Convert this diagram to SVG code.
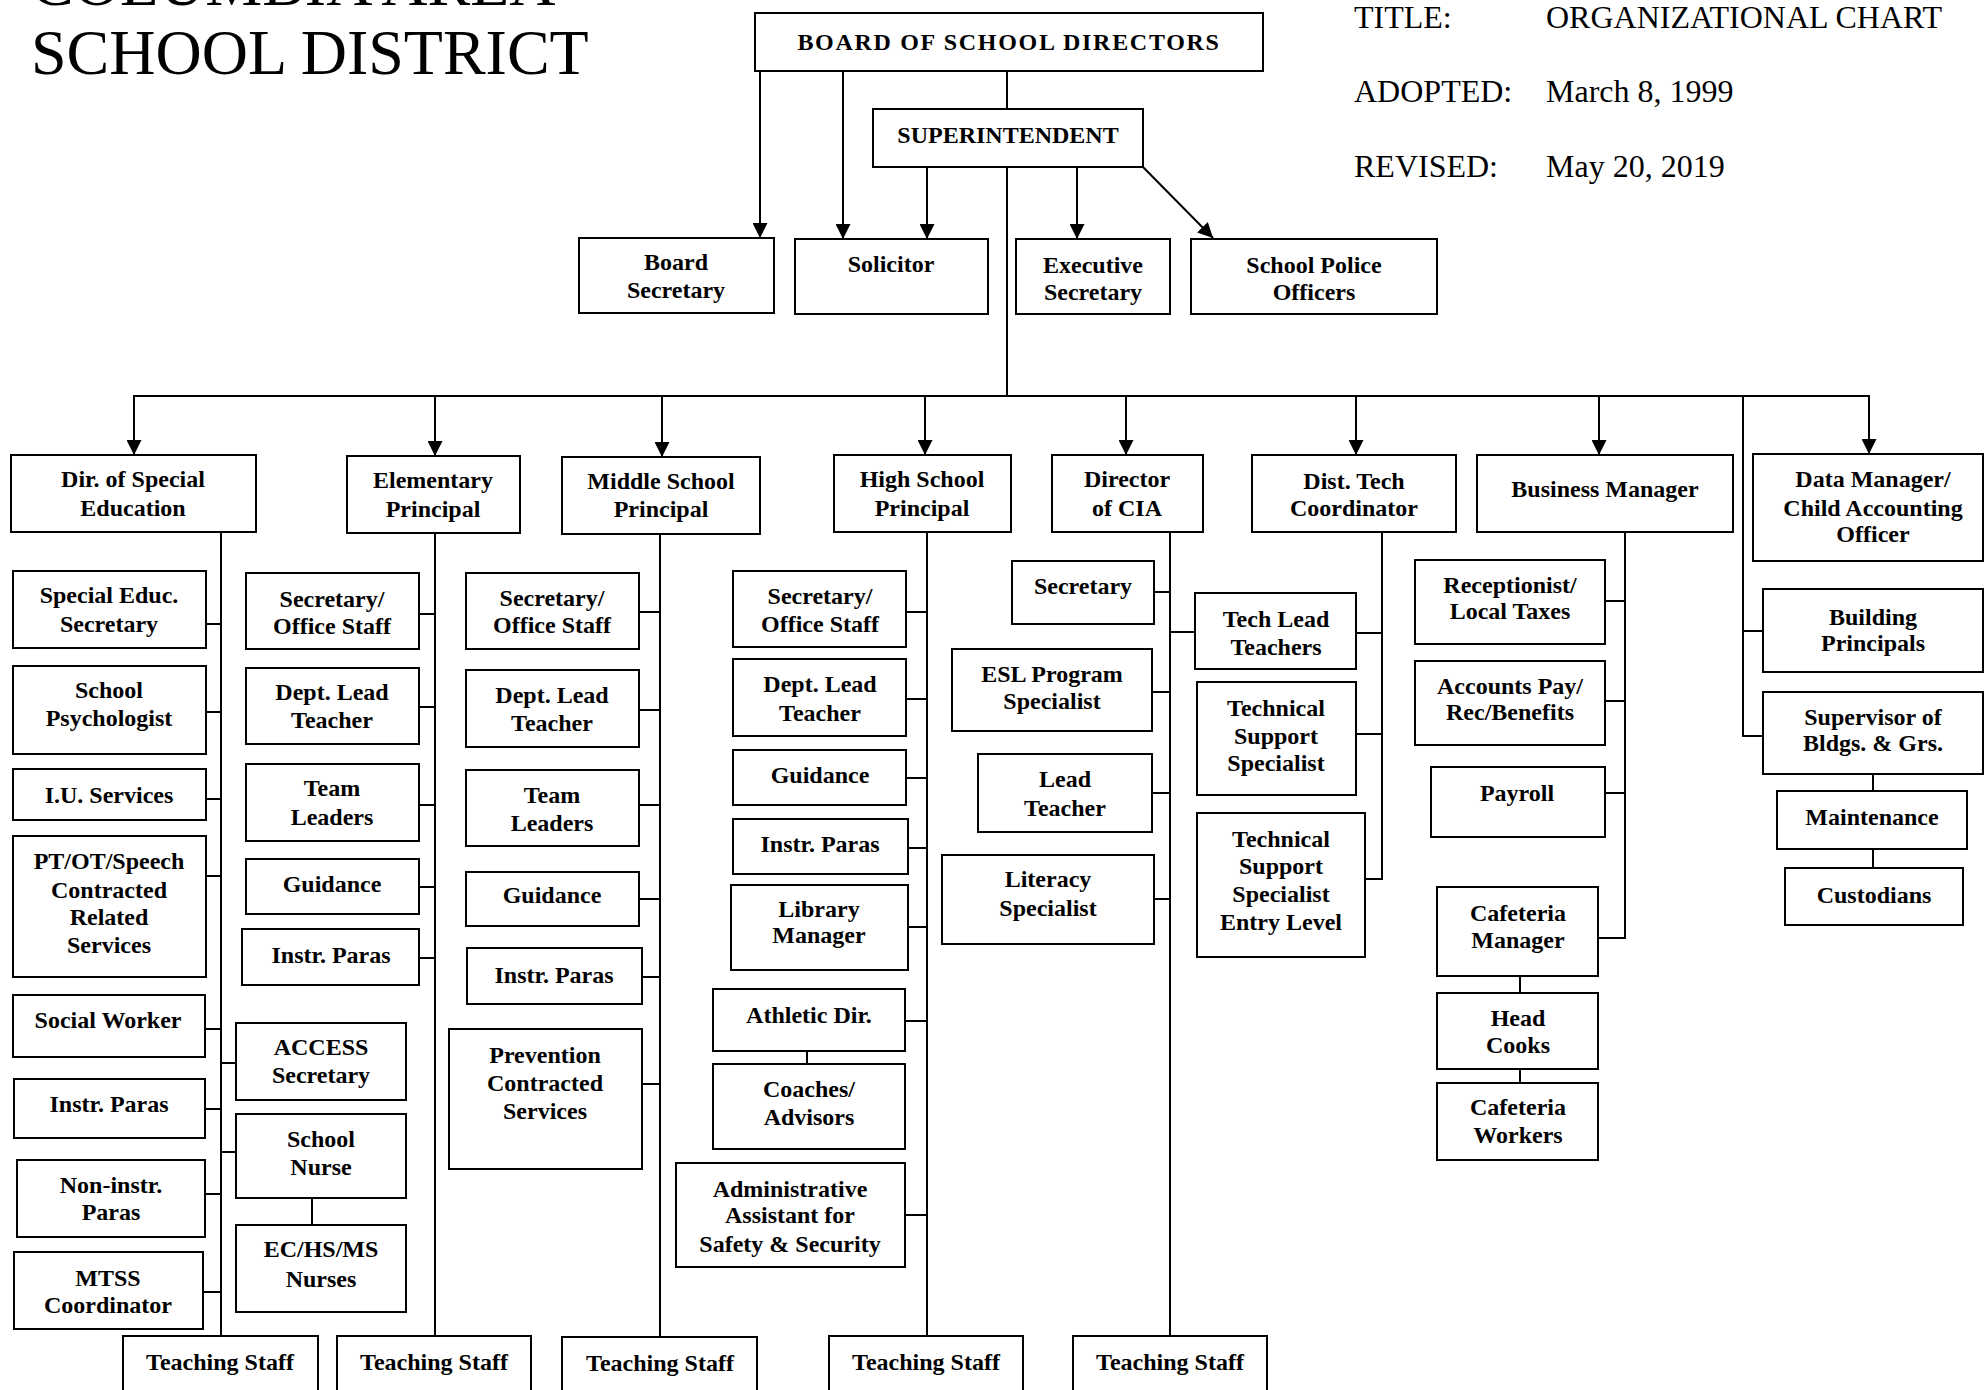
<svg xmlns="http://www.w3.org/2000/svg" width="1984" height="1390" viewBox="0 0 1984 1390">
<defs>
<marker id="ah" viewBox="0 0 10 10" refX="10" refY="5" markerWidth="15" markerHeight="15" markerUnits="userSpaceOnUse" orient="auto">
<path d="M0,0 L10,5 L0,10 z" fill="#000"/>
</marker>
<style>
.box{fill:#fff;stroke:#000;stroke-width:2}
.t{font-family:"Liberation Serif","Times New Roman",serif;font-weight:bold;font-size:24px;text-anchor:middle;fill:#000}
.h{font-family:"Liberation Serif","Times New Roman",serif;fill:#000}
.ln{stroke:#000;stroke-width:2;fill:none}
.ar{stroke:#000;stroke-width:2;fill:none;marker-end:url(#ah)}
</style>
</defs>
<rect x="0" y="0" width="1984" height="1390" fill="#fff"/>

<g id="title">
<text class="h" x="31" y="5" font-size="64">COLUMBIA AREA</text>
<text class="h" x="31" y="74" font-size="64">SCHOOL DISTRICT</text>
<text class="h" x="1354" y="28" font-size="32">TITLE:</text>
<text class="h" x="1546" y="28" font-size="32">ORGANIZATIONAL CHART</text>
<text class="h" x="1354" y="102" font-size="32">ADOPTED:</text>
<text class="h" x="1546" y="102" font-size="32">March 8, 1999</text>
<text class="h" x="1354" y="177" font-size="32">REVISED:</text>
<text class="h" x="1546" y="177" font-size="32">May 20, 2019</text>
</g>

<g id="connectors">
<line class="ln" x1="1007" y1="71" x2="1007" y2="109"/>
<line class="ar" x1="760" y1="72" x2="760" y2="238"/>
<line class="ar" x1="843" y1="72" x2="843" y2="239"/>
<line class="ar" x1="927" y1="168" x2="927" y2="239"/>
<line class="ar" x1="1077" y1="168" x2="1077" y2="239"/>
<line class="ar" x1="1143" y1="167" x2="1213" y2="238"/>
<line class="ln" x1="1007" y1="167" x2="1007" y2="396"/>
<line class="ln" x1="133" y1="396" x2="1870" y2="396"/>
<line class="ar" x1="134" y1="396" x2="134" y2="455"/>
<line class="ar" x1="435" y1="396" x2="435" y2="456"/>
<line class="ar" x1="662" y1="396" x2="662" y2="457"/>
<line class="ar" x1="925" y1="396" x2="925" y2="455"/>
<line class="ar" x1="1126" y1="396" x2="1126" y2="455"/>
<line class="ar" x1="1356" y1="396" x2="1356" y2="455"/>
<line class="ar" x1="1599" y1="396" x2="1599" y2="455"/>
<line class="ar" x1="1869" y1="396" x2="1869" y2="454"/>
<path class="ln" d="M1743,396 V736 H1763 M1743,631 H1763"/>
<path class="ln" d="M221,532 V1336 M206,624 H221 M206,712 H221 M206,799 H221 M206,876 H221 M205,1029 H221 M205,1109 H221 M205,1194 H221 M203,1292 H221 M221,1063 H236 M221,1152 H236 M312,1198 V1225"/>
<path class="ln" d="M435,533 V1336 M419,614 H435 M419,707 H435 M419,805 H435 M419,887 H435 M419,958 H435"/>
<path class="ln" d="M660,534 V1337 M639,612 H660 M639,710 H660 M639,805 H660 M639,899 H660 M642,977 H660 M642,1084 H660"/>
<path class="ln" d="M927,532 V1336 M906,612 H927 M906,699 H927 M906,778 H927 M908,848 H927 M908,927 H927 M905,1021 H927 M905,1215 H927 M807,1051 V1064"/>
<path class="ln" d="M1170,532 V1336 M1154,592 H1170 M1152,692 H1170 M1152,793 H1170 M1154,899 H1170 M1170,632 H1195"/>
<path class="ln" d="M1382,532 V879 H1365 M1356,633 H1382 M1356,734 H1382"/>
<path class="ln" d="M1625,532 V938 H1598 M1605,601 H1625 M1605,701 H1625 M1605,793 H1625 M1520,976 V993 M1520,1069 V1083"/>
<path class="ln" d="M1873,774 V791 M1873,849 V868"/>
</g>

<g id="board"><rect class="box" x="755" y="13" width="508" height="58"/><text class="t" x="1009" y="50" letter-spacing="1.7">BOARD OF SCHOOL DIRECTORS</text></g>
<g id="superintendent"><rect class="box" x="873" y="109" width="270" height="58"/><text class="t" x="1008" y="143">SUPERINTENDENT</text></g>
<g id="board-secretary"><rect class="box" x="579" y="238" width="195" height="75"/><text class="t" x="676" y="270">Board</text><text class="t" x="676" y="298">Secretary</text></g>
<g id="solicitor"><rect class="box" x="795" y="239" width="193" height="75"/><text class="t" x="891" y="272">Solicitor</text></g>
<g id="executive-secretary"><rect class="box" x="1016" y="239" width="154" height="75"/><text class="t" x="1093" y="273">Executive</text><text class="t" x="1093" y="300">Secretary</text></g>
<g id="school-police"><rect class="box" x="1191" y="239" width="246" height="75"/><text class="t" x="1314" y="273">School Police</text><text class="t" x="1314" y="300">Officers</text></g>

<g id="dir-special-ed"><rect class="box" x="11" y="455" width="245" height="77"/><text class="t" x="133" y="487">Dir. of Special</text><text class="t" x="133" y="516">Education</text></g>
<g id="elementary-principal"><rect class="box" x="347" y="456" width="173" height="77"/><text class="t" x="433" y="488">Elementary</text><text class="t" x="433" y="517">Principal</text></g>
<g id="middle-principal"><rect class="box" x="562" y="457" width="198" height="77"/><text class="t" x="661" y="489">Middle School</text><text class="t" x="661" y="517">Principal</text></g>
<g id="high-principal"><rect class="box" x="834" y="455" width="177" height="77"/><text class="t" x="922" y="487">High School</text><text class="t" x="922" y="516">Principal</text></g>
<g id="director-cia"><rect class="box" x="1052" y="455" width="151" height="77"/><text class="t" x="1127" y="487">Director</text><text class="t" x="1127" y="516">of CIA</text></g>
<g id="dist-tech"><rect class="box" x="1252" y="455" width="204" height="77"/><text class="t" x="1354" y="489">Dist. Tech</text><text class="t" x="1354" y="516">Coordinator</text></g>
<g id="business-manager"><rect class="box" x="1477" y="455" width="256" height="77"/><text class="t" x="1605" y="497">Business Manager</text></g>
<g id="data-manager"><rect class="box" x="1753" y="454" width="230" height="107"/><text class="t" x="1873" y="487">Data Manager/</text><text class="t" x="1873" y="516">Child Accounting</text><text class="t" x="1873" y="542">Officer</text></g>

<g id="sped-secretary"><rect class="box" x="13" y="571" width="193" height="77"/><text class="t" x="109" y="603">Special Educ.</text><text class="t" x="109" y="632">Secretary</text></g>
<g id="school-psychologist"><rect class="box" x="13" y="666" width="193" height="88"/><text class="t" x="109" y="698">School</text><text class="t" x="109" y="726">Psychologist</text></g>
<g id="iu-services"><rect class="box" x="13" y="769" width="193" height="51"/><text class="t" x="109" y="803">I.U. Services</text></g>
<g id="pt-ot-speech"><rect class="box" x="13" y="836" width="193" height="141"/><text class="t" x="109" y="869">PT/OT/Speech</text><text class="t" x="109" y="898">Contracted</text><text class="t" x="109" y="925">Related</text><text class="t" x="109" y="953">Services</text></g>
<g id="social-worker"><rect class="box" x="13" y="995" width="192" height="62"/><text class="t" x="108" y="1028">Social Worker</text></g>
<g id="sped-instr-paras"><rect class="box" x="14" y="1079" width="191" height="59"/><text class="t" x="109" y="1112">Instr. Paras</text></g>
<g id="non-instr-paras"><rect class="box" x="17" y="1160" width="188" height="77"/><text class="t" x="111" y="1193">Non-instr.</text><text class="t" x="111" y="1220">Paras</text></g>
<g id="mtss"><rect class="box" x="14" y="1252" width="189" height="77"/><text class="t" x="108" y="1286">MTSS</text><text class="t" x="108" y="1313">Coordinator</text></g>
<g id="access-secretary"><rect class="box" x="236" y="1023" width="170" height="77"/><text class="t" x="321" y="1055">ACCESS</text><text class="t" x="321" y="1083">Secretary</text></g>
<g id="school-nurse"><rect class="box" x="236" y="1114" width="170" height="84"/><text class="t" x="321" y="1147">School</text><text class="t" x="321" y="1175">Nurse</text></g>
<g id="nurses"><rect class="box" x="236" y="1225" width="170" height="87"/><text class="t" x="321" y="1257">EC/HS/MS</text><text class="t" x="321" y="1287">Nurses</text></g>
<g id="sped-teaching"><rect class="box" x="123" y="1336" width="195" height="70"/><text class="t" x="220" y="1370">Teaching Staff</text></g>

<g id="elem-secretary"><rect class="box" x="246" y="573" width="173" height="76"/><text class="t" x="332" y="607">Secretary/</text><text class="t" x="332" y="634">Office Staff</text></g>
<g id="elem-dept-lead"><rect class="box" x="246" y="668" width="173" height="76"/><text class="t" x="332" y="700">Dept. Lead</text><text class="t" x="332" y="728">Teacher</text></g>
<g id="elem-team-leaders"><rect class="box" x="246" y="764" width="173" height="77"/><text class="t" x="332" y="796">Team</text><text class="t" x="332" y="825">Leaders</text></g>
<g id="elem-guidance"><rect class="box" x="246" y="859" width="173" height="55"/><text class="t" x="332" y="892">Guidance</text></g>
<g id="elem-instr-paras"><rect class="box" x="242" y="929" width="177" height="56"/><text class="t" x="331" y="963">Instr. Paras</text></g>
<g id="elem-teaching"><rect class="box" x="337" y="1336" width="194" height="70"/><text class="t" x="434" y="1370">Teaching Staff</text></g>

<g id="ms-secretary"><rect class="box" x="466" y="573" width="173" height="76"/><text class="t" x="552" y="606">Secretary/</text><text class="t" x="552" y="633">Office Staff</text></g>
<g id="ms-dept-lead"><rect class="box" x="466" y="670" width="173" height="77"/><text class="t" x="552" y="703">Dept. Lead</text><text class="t" x="552" y="731">Teacher</text></g>
<g id="ms-team-leaders"><rect class="box" x="466" y="770" width="173" height="76"/><text class="t" x="552" y="803">Team</text><text class="t" x="552" y="831">Leaders</text></g>
<g id="ms-guidance"><rect class="box" x="466" y="872" width="173" height="54"/><text class="t" x="552" y="903">Guidance</text></g>
<g id="ms-instr-paras"><rect class="box" x="467" y="948" width="175" height="56"/><text class="t" x="554" y="983">Instr. Paras</text></g>
<g id="prevention"><rect class="box" x="449" y="1029" width="193" height="140"/><text class="t" x="545" y="1063">Prevention</text><text class="t" x="545" y="1091">Contracted</text><text class="t" x="545" y="1119">Services</text></g>
<g id="ms-teaching"><rect class="box" x="562" y="1337" width="195" height="70"/><text class="t" x="660" y="1371">Teaching Staff</text></g>

<g id="hs-secretary"><rect class="box" x="733" y="571" width="173" height="76"/><text class="t" x="820" y="604">Secretary/</text><text class="t" x="820" y="632">Office Staff</text></g>
<g id="hs-dept-lead"><rect class="box" x="733" y="659" width="173" height="77"/><text class="t" x="820" y="692">Dept. Lead</text><text class="t" x="820" y="721">Teacher</text></g>
<g id="hs-guidance"><rect class="box" x="733" y="750" width="173" height="55"/><text class="t" x="820" y="783">Guidance</text></g>
<g id="hs-instr-paras"><rect class="box" x="733" y="819" width="175" height="55"/><text class="t" x="820" y="852">Instr. Paras</text></g>
<g id="library-manager"><rect class="box" x="731" y="885" width="177" height="85"/><text class="t" x="819" y="917">Library</text><text class="t" x="819" y="943">Manager</text></g>
<g id="athletic-dir"><rect class="box" x="713" y="989" width="192" height="62"/><text class="t" x="809" y="1023">Athletic Dir.</text></g>
<g id="coaches"><rect class="box" x="713" y="1064" width="192" height="85"/><text class="t" x="809" y="1097">Coaches/</text><text class="t" x="809" y="1125">Advisors</text></g>
<g id="admin-assistant"><rect class="box" x="676" y="1163" width="229" height="104"/><text class="t" x="790" y="1197">Administrative</text><text class="t" x="790" y="1223">Assistant for</text><text class="t" x="790" y="1252">Safety &amp; Security</text></g>
<g id="hs-teaching"><rect class="box" x="829" y="1336" width="194" height="70"/><text class="t" x="926" y="1370">Teaching Staff</text></g>

<g id="cia-secretary"><rect class="box" x="1012" y="561" width="142" height="63"/><text class="t" x="1083" y="594">Secretary</text></g>
<g id="esl"><rect class="box" x="952" y="649" width="200" height="82"/><text class="t" x="1052" y="682">ESL Program</text><text class="t" x="1052" y="709">Specialist</text></g>
<g id="lead-teacher"><rect class="box" x="978" y="754" width="174" height="78"/><text class="t" x="1065" y="787">Lead</text><text class="t" x="1065" y="816">Teacher</text></g>
<g id="literacy"><rect class="box" x="942" y="855" width="212" height="89"/><text class="t" x="1048" y="887">Literacy</text><text class="t" x="1048" y="916">Specialist</text></g>
<g id="cia-teaching"><rect class="box" x="1073" y="1336" width="194" height="70"/><text class="t" x="1170" y="1370">Teaching Staff</text></g>

<g id="tech-lead"><rect class="box" x="1195" y="593" width="161" height="76"/><text class="t" x="1276" y="627">Tech Lead</text><text class="t" x="1276" y="655">Teachers</text></g>
<g id="tech-support"><rect class="box" x="1197" y="682" width="159" height="113"/><text class="t" x="1276" y="716">Technical</text><text class="t" x="1276" y="744">Support</text><text class="t" x="1276" y="771">Specialist</text></g>
<g id="tech-support-entry"><rect class="box" x="1197" y="813" width="168" height="144"/><text class="t" x="1281" y="847">Technical</text><text class="t" x="1281" y="874">Support</text><text class="t" x="1281" y="902">Specialist</text><text class="t" x="1281" y="930">Entry Level</text></g>

<g id="receptionist"><rect class="box" x="1415" y="560" width="190" height="84"/><text class="t" x="1510" y="593">Receptionist/</text><text class="t" x="1510" y="619">Local Taxes</text></g>
<g id="accounts"><rect class="box" x="1415" y="661" width="190" height="84"/><text class="t" x="1510" y="694">Accounts Pay/</text><text class="t" x="1510" y="720">Rec/Benefits</text></g>
<g id="payroll"><rect class="box" x="1431" y="767" width="174" height="70"/><text class="t" x="1517" y="801">Payroll</text></g>
<g id="cafeteria-manager"><rect class="box" x="1437" y="887" width="161" height="89"/><text class="t" x="1518" y="921">Cafeteria</text><text class="t" x="1518" y="948">Manager</text></g>
<g id="head-cooks"><rect class="box" x="1437" y="993" width="161" height="76"/><text class="t" x="1518" y="1026">Head</text><text class="t" x="1518" y="1053">Cooks</text></g>
<g id="cafeteria-workers"><rect class="box" x="1437" y="1083" width="161" height="77"/><text class="t" x="1518" y="1115">Cafeteria</text><text class="t" x="1518" y="1143">Workers</text></g>

<g id="building-principals"><rect class="box" x="1763" y="589" width="220" height="83"/><text class="t" x="1873" y="625">Building</text><text class="t" x="1873" y="651">Principals</text></g>
<g id="supervisor"><rect class="box" x="1763" y="692" width="220" height="82"/><text class="t" x="1873" y="725">Supervisor of</text><text class="t" x="1873" y="751">Bldgs. &amp; Grs.</text></g>
<g id="maintenance"><rect class="box" x="1777" y="791" width="190" height="58"/><text class="t" x="1872" y="825">Maintenance</text></g>
<g id="custodians"><rect class="box" x="1785" y="868" width="178" height="57"/><text class="t" x="1874" y="903">Custodians</text></g>
</svg>
